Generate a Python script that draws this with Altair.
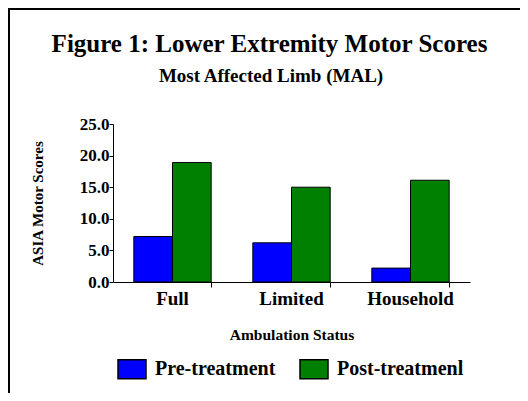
import altair as alt
import pandas as pd

# ---- data ----
categories = ["Full", "Limited", "Household"]
series = ["Pre-treatment", "Post-treatmenl"]
pre_values = [7.2, 6.2, 2.2]
post_values = [18.9, 15.0, 16.1]
y_ticks = [0, 5, 10, 15, 20, 25]
colors = ["#0000FF", "#008000"]

title_text = "Figure 1: Lower Extremity Motor Scores"
subtitle_text = "Most Affected Limb (MAL)"
x_title = "Ambulation Status"
y_title = "ASIA Motor Scores"

rows = []
for c, p, q in zip(categories, pre_values, post_values):
    rows.append({"status": c, "phase": series[0], "score": p})
    rows.append({"status": c, "phase": series[1], "score": q})
df = pd.DataFrame(rows)

FONT = "Liberation Serif"
W, H = 357, 158

bars = alt.Chart(df).mark_bar(stroke="black", strokeWidth=1, opacity=1).encode(
    x=alt.X(
        "status:N",
        sort=categories,
        scale=alt.Scale(paddingInner=0.35, paddingOuter=0.175),
        axis=alt.Axis(
            title=x_title,
            labelAngle=0,
            bandPosition=1,
            tickSize=5,
            labelPadding=2,
            labelFontSize=19,
            titleFontSize=15.5,
            titleX=W / 2,
            titleY=57,
            titleBaseline="alphabetic",
            titleAlign="center",
        ),
    ),
    xOffset=alt.XOffset(
        "phase:N", sort=series, scale=alt.Scale(paddingInner=0, paddingOuter=0)
    ),
    y=alt.Y(
        "score:Q",
        scale=alt.Scale(domain=[0, 25], nice=False),
        axis=alt.Axis(
            values=y_ticks,
            format=".1f",
            title=y_title,
            grid=False,
            tickSize=4,
            labelPadding=0,
            labelFontSize=17,
            titleFontSize=15,
            titleAngle=270,
            titleX=-71,
            titleY=H / 2,
            titleBaseline="alphabetic",
            titleAlign="center",
        ),
    ),
    color=alt.Color(
        "phase:N",
        sort=series,
        scale=alt.Scale(domain=series, range=colors),
        legend=alt.Legend(
            title=None,
            orient="none",
            legendX=8,
            legendY=234,
            direction="horizontal",
            padding=0,
            symbolType="M-1.4,-0.95L1.4,-0.95L1.4,0.95L-1.4,0.95Z",
            symbolSize=400,
            symbolStrokeColor="black",
            symbolStrokeWidth=1.5,
            symbolOpacity=1,
            labelFont=FONT,
            labelFontSize=20,
            labelFontWeight="bold",
            labelColor="black",
            labelOffset=12,
            labelLimit=0,
            columnPadding=21,
        ),
    ),
)

one = alt.Data(values=[{"t": title_text, "s": subtitle_text}])

title_mark = alt.Chart(one).mark_text(
    font=FONT, fontSize=25, fontWeight="bold", align="center", baseline="alphabetic", color="black"
).encode(x=alt.value(156.5), y=alt.value(-72), text="t:N")

subtitle_mark = alt.Chart(one).mark_text(
    font=FONT, fontSize=19, fontWeight="bold", align="center", baseline="alphabetic", color="black"
).encode(x=alt.value(158), y=alt.value(-42), text="s:N")

top_line = alt.Chart(one).mark_rule(color="black", strokeWidth=2).encode(
    x=alt.value(-105), x2=alt.value(407), y=alt.value(-115)
)
left_line = alt.Chart(one).mark_rule(color="black", strokeWidth=2).encode(
    x=alt.value(-104), y=alt.value(-115), y2=alt.value(269)
)

chart = (
    alt.layer(bars, title_mark, subtitle_mark, top_line, left_line)
    .properties(
        width=W,
        height=H,
        autosize=alt.AutoSizeParams(type="none"),
        padding={"left": 105, "top": 116, "right": 50, "bottom": 111},
        background="white",
    )
    .configure_view(stroke=None)
    .configure_axis(
        domainColor="black",
        tickColor="black",
        domainWidth=1,
        tickWidth=1,
        labelColor="black",
        titleColor="black",
        labelFont=FONT,
        titleFont=FONT,
        labelFontWeight="bold",
        titleFontWeight="bold",
    )
)

chart.save("out.html", embed_options={"renderer": "svg", "actions": False})
